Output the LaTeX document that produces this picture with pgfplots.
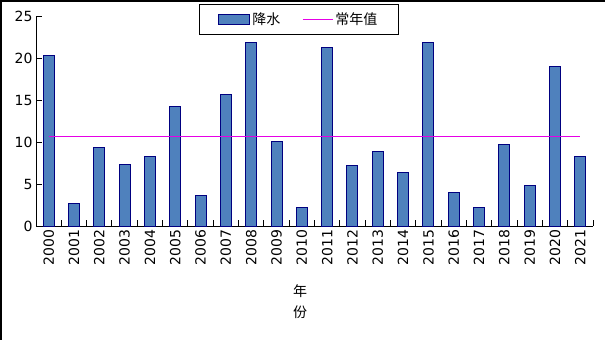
\documentclass[border=0pt]{standalone}
\usepackage{fontspec}
\setmainfont{DejaVu Sans}
\newfontfamily\cjk{Noto Sans CJK SC}
\usepackage{pgfplots}
\pgfplotsset{compat=1.18}
\definecolor{barfill}{RGB}{79,129,189}
\definecolor{baredge}{RGB}{0,0,128}
\definecolor{normline}{RGB}{230,0,230}
\pgfplotsset{
  barleg/.style={legend image code/.code={\draw[##1, line width=1bp] (0bp,-5bp) rectangle (31bp,5bp);}},
  lineleg/.style={legend image code/.code={\draw[##1] (0bp,0bp) -- (30bp,0bp);}},
}
\begin{document}
\begin{tikzpicture}
\path[use as bounding box] (-36bp,-114bp) rectangle (569bp,226bp);
\draw[line width=2bp] (-35bp,-114bp) -- (-35bp,225bp) -- (569bp,225bp);
\begin{axis}[
  at={(0,0)}, anchor=south west,
  scale only axis, width=557bp, height=210bp,
  xmin=-0.5, xmax=21.5, ymin=0, ymax=25,
  axis x line*=bottom, axis y line*=left,
  axis line style={line width=1bp,-},
  tick align=inside,
  xtick={0,...,21},
  xticklabels={2000,2001,2002,2003,2004,2005,2006,2007,2008,2009,2010,2011,2012,2013,2014,2015,2016,2017,2018,2019,2020,2021},
  every major x tick/.append style={draw=none},
  minor xtick={-0.5,0.5,...,21.5},
  minor tick length=6bp,
  major tick length=6bp,
  every tick/.append style={black, line width=1bp},
  ytick={0,5,...,25},
  ticklabel style={font=\fontsize{14bp}{16bp}\selectfont},
  /pgf/number format/assume math mode=true,
  xticklabel style={rotate=90, anchor=east},
  xlabel={年\\份},
  xlabel style={font=\cjk\fontsize{14bp}{21bp}\selectfont, align=center, at={(axis description cs:0.474,-0.36)}, anchor=center},
  legend columns=2,
  legend cell align=left,
  legend style={at={(rel axis cs:0.472,1.057)}, anchor=north, draw=black, line width=1bp,
    font=\cjk\fontsize{14bp}{16bp}\selectfont, inner xsep=19bp, inner ysep=6.5bp,
    /tikz/every even column/.append style={column sep=20bp}},
]
\addplot[ybar, bar width=11bp, fill=barfill, draw=baredge, line width=1bp, barleg]
coordinates {
(0,20.3) (1,2.7) (2,9.4) (3,7.3) (4,8.3) (5,14.25) (6,3.6) (7,15.7) (8,21.9) (9,10.1)
(10,2.25) (11,21.2) (12,7.25) (13,8.9) (14,6.4) (15,21.85) (16,4.0) (17,2.2) (18,9.7)
(19,4.85) (20,19.0) (21,8.3)
};
\addlegendentry{降水}
\addplot[normline, line width=1bp, mark=none, lineleg]
coordinates {(0,10.6) (21,10.6)};
\addlegendentry{常年值}
\end{axis}
\end{tikzpicture}
\end{document}
